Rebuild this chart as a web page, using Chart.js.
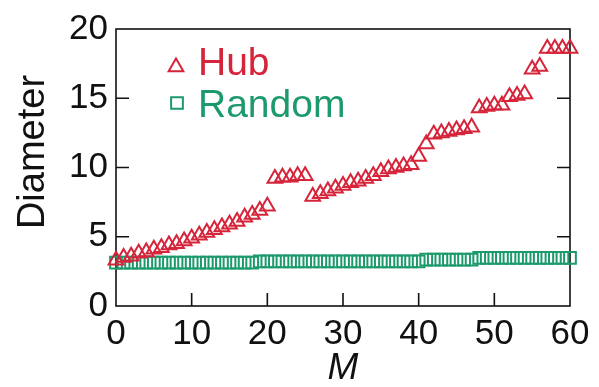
<!DOCTYPE html>
<html><head><meta charset="utf-8">
<script src="https://cdn.jsdelivr.net/npm/chart.js@4.4.0/dist/chart.umd.min.js"></script>
<style>html,body{margin:0;padding:0;background:#fff;}#wrap{width:599px;height:387px;position:relative;}</style>
</head><body><div id="wrap"><canvas id="c"></canvas></div>
<script>
// ---- data ----
const mValues = [0,1,2,3,4,5,6,7,8,9,10,11,12,13,14,15,16,17,18,19,20,21,22,23,24,25,26,27,28,29,30,31,32,33,34,35,36,37,38,39,40,41,42,43,44,45,46,47,48,49,50,51,52,53,54,55,56,57,58,59,60];
const hubDiameter = [3.3,3.5,3.6,3.8,3.9,4.1,4.2,4.4,4.5,4.7,4.9,5.1,5.3,5.5,5.7,5.9,6.1,6.4,6.6,6.9,7.2,
  9.2,9.3,9.3,9.4,9.4,7.9,8.1,8.3,8.5,8.7,8.9,9.0,9.2,9.4,9.7,9.9,10.0,10.1,10.2,10.8,11.7,
  12.4,12.5,12.6,12.7,12.8,12.9,14.3,14.4,14.5,14.5,15.1,15.2,15.3,17.1,17.3,18.6,18.6,18.6,18.6];
const randomDiameter = [3.13,3.13,3.13,3.13,3.13,3.13,3.13,3.13,3.13,3.13,3.13,3.13,3.13,3.13,3.13,3.13,3.13,3.13,3.13,
  3.22,3.22,3.22,3.22,3.22,3.22,3.22,3.22,3.22,3.22,3.22,3.22,3.22,3.22,3.22,3.22,3.22,3.22,3.22,3.22,3.22,3.22,
  3.35,3.35,3.35,3.35,3.35,3.35,3.35,
  3.48,3.48,3.48,3.48,3.48,3.48,3.48,3.48,3.48,3.48,3.48,3.48,3.48];
const seriesNames = ['Hub', 'Random'];
const xTickValues = [0,10,20,30,40,50,60];
const yTickValues = [0,5,10,15,20];
const xTitle = 'M';
const yTitle = 'Diameter';

const RED = 'rgb(214,36,58)';
const GREEN = 'rgb(28,154,108)';
const FONT = '"Liberation Sans", Arial, Helvetica, sans-serif';

const toPoints = (xs, ys) => xs.map((x, i) => ({x: x, y: ys[i]}));

const framePlugin = {
  id: 'frame',
  beforeDatasetsDraw(chart) {
    const {ctx, chartArea: a, scales: {x, y}} = chart;
    ctx.save();
    ctx.strokeStyle = '#111';
    ctx.lineWidth = 1.6;
    ctx.strokeRect(a.left, a.top, a.right - a.left, a.bottom - a.top);
    const tl = 13;
    ctx.beginPath();
    xTickValues.forEach(v => {
      if (v === x.min || v === x.max) return;
      const px = x.getPixelForValue(v);
      ctx.moveTo(px, a.bottom); ctx.lineTo(px, a.bottom - tl);
    });
    yTickValues.forEach(v => {
      if (v === y.min || v === y.max) return;
      const py = y.getPixelForValue(v);
      ctx.moveTo(a.left, py); ctx.lineTo(a.left + tl, py);
      ctx.moveTo(a.right, py); ctx.lineTo(a.right - tl, py);
    });
    ctx.stroke();
    // y axis title
    ctx.fillStyle = '#111';
    ctx.font = '38px ' + FONT;
    ctx.textAlign = 'center';
    ctx.textBaseline = 'alphabetic';
    ctx.translate(44, 152);
    ctx.rotate(-Math.PI / 2);
    ctx.fillText(yTitle, 0, 0);
    ctx.restore();
  },
  afterDraw(chart) {
    const ctx = chart.ctx;
    const slots = [{px: 176, py: 67, ty: 75}, {px: 177, py: 103, ty: 117}];
    chart.data.datasets.forEach((ds, i) => {
      const s = slots[i];
      ctx.save();
      ctx.strokeStyle = ds.borderColor;
      ctx.fillStyle = 'rgba(0,0,0,0)';
      ctx.lineWidth = ds.borderWidth;
      Chart.helpers.drawPoint(ctx, {pointStyle: ds.pointStyle, radius: ds.pointRadius, borderWidth: ds.borderWidth, rotation: 0}, s.px, s.py);
      ctx.fillStyle = ds.borderColor;
      ctx.font = '39px ' + FONT;
      ctx.textAlign = 'left';
      ctx.textBaseline = 'alphabetic';
      ctx.fillText(ds.label, 198, s.ty);
      ctx.restore();
    });
  }
};

new Chart(document.getElementById('c'), {
  type: 'scatter',
  data: {
    datasets: [
      {label: seriesNames[0], data: toPoints(mValues, hubDiameter), pointStyle: 'triangle', pointRadius: 8.5,
       borderColor: RED, backgroundColor: 'rgba(0,0,0,0)', borderWidth: 2, showLine: false, clip: false},
      {label: seriesNames[1], data: toPoints(mValues, randomDiameter), pointStyle: 'rect', pointRadius: 8.3,
       borderColor: GREEN, backgroundColor: 'rgba(0,0,0,0)', borderWidth: 2, showLine: false, clip: false}
    ]
  },
  options: {
    responsive: true,
    maintainAspectRatio: false,
    animation: false,
    events: [],
    layout: {padding: {left: 0, right: 29, top: 25, bottom: 0}},
    plugins: {legend: {display: false}, tooltip: {enabled: false}},
    scales: {
      x: {
        type: 'linear', min: 0, max: 60,
        afterBuildTicks: s => { s.ticks = xTickValues.map(v => ({value: v})); },
        afterFit: s => { s.height = 81; },
        grid: {display: false, drawTicks: false},
        border: {display: false},
        ticks: {color: '#111', font: {family: FONT, size: 35}, padding: 7, maxRotation: 0, autoSkip: false},
        title: {display: true, text: xTitle, color: '#111', font: {family: FONT, size: 37, style: 'italic', lineHeight: 1.0}, padding: 0}
      },
      y: {
        type: 'linear', min: 0, max: 20,
        afterBuildTicks: s => { s.ticks = yTickValues.map(v => ({value: v})); },
        afterFit: s => { s.width = 116; },
        grid: {display: false, drawTicks: false},
        border: {display: false},
        ticks: {color: '#111', font: {family: FONT, size: 35}, padding: 8, autoSkip: false}
      }
    }
  },
  plugins: [framePlugin]
});
</script>
</body></html>
